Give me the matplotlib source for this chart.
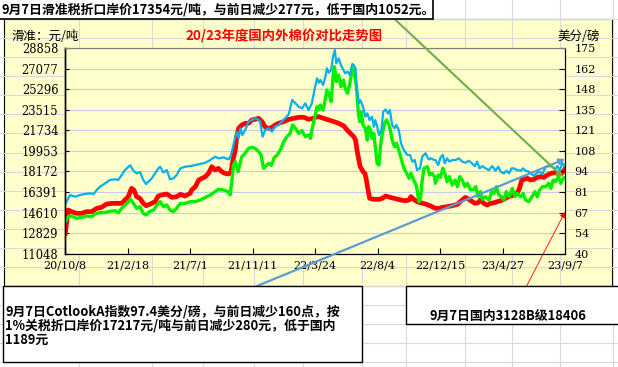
import numpy as np
import matplotlib
matplotlib.use('Agg')
import matplotlib.pyplot as plt
from matplotlib.patches import Rectangle

plt.rcParams['font.family'] = 'DejaVu Serif'
CJK = ['Noto Sans CJK SC', 'DejaVu Sans']

## données (jours depuis 2020-10-08)
START = np.datetime64('2020-10-08')

# Cotlook A, 美分/磅 (axe droit)
cot_day = [0, 10, 21, 31, 42, 53, 60, 67, 74, 85, 95, 106, 113, 120, 127, 138, 145, 152, 159, 166, 172, 177,
           184, 191, 198, 202, 209, 216, 223, 230, 237, 245, 255, 266,
           277, 287, 298, 309, 319, 326, 337, 348, 353, 357, 362, 365, 369, 373, 377, 383, 390, 397, 404, 410,
           415, 420, 426, 433, 440, 447, 454, 461, 468, 476, 483, 490, 497, 504, 511, 518, 525,
           527, 532, 536, 540, 543, 549, 554, 557, 561, 566, 570, 574, 577, 582, 587, 592, 596, 601, 606, 611,
           614, 618, 621, 625, 628, 634, 639, 643, 648, 653, 657, 660, 664, 668, 673, 677, 682, 687, 691, 696,
           701, 705, 710, 715, 721, 728, 734, 739, 744, 749, 755, 760, 767, 774, 779, 785,
           788, 794, 799, 804, 808, 813, 818, 824, 831, 838, 845, 852, 859, 866, 872, 877, 882, 888, 895, 902,
           909, 916, 922, 927, 934, 939, 945, 950, 955, 962, 970, 975, 980, 987, 993, 998, 1003, 1009, 1016,
           1023, 1030, 1037, 1043, 1048, 1053, 1058, 1064]
cot_val = [72.6, 78.5, 77.4, 78.5, 79.2, 79.6, 79.2, 81.8, 84.0, 86.2, 88.4, 88.8, 88.4, 91.6, 94.9, 98.0,
           94.5, 92.7, 93.6, 88.4, 85.7, 87.3, 89.4, 92.7, 96.0, 97.1, 93.2, 94.9, 88.8, 89.4, 91.6, 96.0,
           97.1, 97.5,
           98.2, 98.9, 99.7, 101.5, 103.7, 102.6, 103.2, 101.9, 104.8, 110.2, 116.8, 120.1, 115.7, 122.3,
           117.9, 121.2, 126.6, 127.7, 128.8, 128.2, 126.6, 116.8, 121.2, 122.3, 120.1, 123.4, 124.5, 126.6,
           128.8, 131.7, 140.9, 138.7, 136.5, 135.4, 138.7, 134.3, 138.7,
           142.0, 149.6, 155.1, 152.2, 154.0, 150.7, 156.2, 161.7, 158.8, 160.6, 169.3, 173.7, 164.9, 168.2,
           163.8, 160.6, 158.4, 159.5, 157.3, 164.5, 163.8, 161.7, 147.4, 138.7, 140.9, 136.5, 129.9, 132.1,
           127.7, 129.9, 123.4, 127.7, 123.4, 117.9, 121.2, 133.2, 134.7, 132.1, 134.3, 124.5, 122.3, 124.5,
           121.2, 112.4, 108.0, 104.8, 104.8, 100.4, 101.5, 94.9, 96.0, 103.7, 105.9, 101.9, 102.6, 101.5,
           101.5, 98.2, 103.2, 104.8, 99.3, 102.6, 100.4, 101.5, 101.5, 102.6, 100.4, 99.7, 101.0, 99.3, 97.5,
           100.4, 96.0, 97.5, 96.0, 94.9, 97.5, 94.5, 97.1, 93.8, 92.7, 94.5, 92.7, 96.0, 96.0, 94.9, 94.5,
           96.0, 94.5, 93.8, 92.3, 91.0, 92.7, 93.8, 92.3, 97.1, 97.5, 97.1, 95.4, 97.5, 94.5, 99.7, 97.4]

# 国内3128B, 元/吨
dom_day = [0, 6, 13, 24, 35, 45, 56, 67, 77, 88, 99, 110, 120, 127, 134, 141, 146, 152, 159, 166, 172, 181,
           191, 198, 205, 216, 227, 237, 245, 255, 266,
           269, 277, 284, 291, 298, 305, 312, 319, 326, 333, 340, 348, 353, 357, 362, 365, 369, 376, 383, 390,
           397, 404, 412, 419, 426, 433, 440, 447, 454, 465, 476, 486, 497, 508, 518, 529,
           532, 540, 550, 561, 572, 582, 593, 600, 607, 614, 618, 621, 625, 628, 634, 638, 641, 644, 648, 657,
           668, 675, 682, 692, 703, 714, 724, 732, 736, 742, 749, 756, 767, 778, 788,
           795, 803, 813, 824, 835, 845, 852, 859, 867, 872, 879, 884, 891, 898, 906, 913, 920, 927, 934, 941,
           948, 955, 962, 967, 972, 977, 984, 991, 998, 1005, 1012, 1019, 1026, 1034, 1041, 1048, 1055, 1062,
           1064]
dom_val = [12809, 14830, 14686, 14541, 14541, 14686, 14686, 14974, 15061, 15350, 15407, 15407, 15407, 15696,
           15985, 16707, 16562, 15985, 15840, 15407, 15205, 15350, 15552, 16043, 16129, 16216, 15927, 15985,
           16187, 16043, 16273,
           16562, 16851, 17428, 17573, 17717, 18006, 18583, 18294, 18439, 18150, 18006, 17948, 18150, 19160,
           20027, 21181, 21903, 22192, 22336, 22336, 22625, 22683, 22769, 22481, 21990, 21903, 21990, 22192,
           22336, 22481, 22683, 22769, 22856, 22856, 22683, 22769,
           22856, 22914, 22769, 22625, 22481, 22336, 22105, 21759, 21470, 21181, 20893, 20027, 19160, 18583,
           18150, 18006, 17428, 16707, 15840, 15754, 15754, 15840, 16043, 15927, 15812, 15696, 15638, 15696,
           15985, 15754, 15552, 15465, 15350, 15176, 14974,
           14974, 15061, 15119, 15205, 15321, 15696, 15927, 15754, 15552, 15407, 15465, 15696, 15407, 15263,
           15407, 15465, 15552, 15638, 15754, 15927, 16043, 16129, 16273, 16707, 17428, 17486, 17573, 17428,
           17486, 17659, 17717, 17659, 17861, 18006, 18063, 18006, 17948, 18237, 18406]

# 滑准税折口岸价, 元/吨
imp_day = [0, 6, 13, 24, 35, 45, 56, 63, 74, 85, 95, 106, 113, 120, 131, 139, 145, 152, 159, 166, 172, 179,
           188, 195, 202, 209, 216, 223, 230, 237, 245, 255, 266,
           277, 287, 298, 309, 319, 326, 337, 346, 351, 355, 358, 362, 368, 372, 376, 383, 390, 397, 404, 412,
           417, 422, 426, 433, 439, 444, 451, 458, 465, 472, 479, 484, 490, 497, 504, 511, 518,
           522, 525, 530, 536, 540, 543, 549, 554, 557, 561, 566, 570, 573, 577, 582, 587, 592, 596, 601, 606,
           611, 614, 620, 624, 627, 630, 634, 639, 643, 646, 650, 653, 657, 660, 664, 668, 671, 675, 680, 684,
           689, 692, 696, 701, 705, 710, 715, 721, 727, 732, 736, 742, 748, 753, 756, 760, 764, 771, 776, 781,
           786,
           788, 794, 799, 804, 808, 813, 818, 824, 830, 835, 840, 845, 851, 856, 863, 870, 874, 879, 884, 888,
           895, 902, 908, 913, 918, 923, 929, 934, 939, 945, 952, 957, 962, 970, 975, 980, 987, 994, 1000,
           1005, 1010, 1016, 1023, 1029, 1034, 1039, 1044, 1050, 1055, 1060, 1064]
imp_val = [13820, 14253, 14310, 14108, 14195, 14310, 14253, 14484, 14599, 14628, 14714, 14772, 14599, 14974,
           15407, 15754, 15407, 14974, 15119, 14541, 14397, 14686, 14830, 15263, 15552, 15119, 15263, 14830,
           14686, 14974, 15407, 15407, 15552,
           15552, 15696, 15927, 16129, 16418, 16620, 16562, 16418, 16129, 17428, 18727, 19016, 18150, 18872,
           19449, 19738, 20171, 20258, 20171, 19882, 19594, 18439, 18583, 18872, 18699, 19305, 19594, 20027,
           20748, 21181, 21470, 22192, 21903, 21470, 21701, 21181, 21326,
           21037, 21759, 22625, 23780, 23491, 23924, 23491, 24501, 25223, 24934, 24213, 26378, 27244, 25945,
           26522, 25512, 26089, 25368, 24934, 25801, 27100, 26955, 25512, 23202, 22481, 23347, 22192, 21903,
           20893, 22048, 21759, 21037, 21470, 20315, 18872, 18727, 20315, 21470, 22336, 22625, 22192, 21759,
           20893, 20315, 20604, 20027, 19305, 18439, 18006, 17573, 18006, 17428, 16851, 15552, 15696, 17428,
           18439, 18583, 17861, 18006, 17717,
           17140, 17861, 17659, 18439, 18006, 17284, 17717, 16995, 17428, 16851, 17717, 17428, 16851, 17140,
           16562, 16620, 16851, 15985, 16418, 15754, 15985, 15696, 16418, 16273, 16851, 16129, 15985, 15696,
           16418, 15985, 16707, 15985, 16273, 15985, 16273, 15696, 15552, 15985, 16418, 15985, 16562, 16851,
           16851, 17140, 16707, 17428, 17284, 17717, 17140, 17573, 17650]

xtick_day = [0, 133, 266, 399, 532, 665, 798, 931, 1064]
xtick_labels = ['20/10/8', '21/2/18', '21/7/1', '21/11/11', '22/3/24', '22/8/4', '22/12/15', '23/4/27', '23/9/7']
left_ticks = [11048, 12829, 14610, 16391, 18172, 19953, 21734, 23515, 25296, 27077, 28858]
right_ticks = [40, 53.5, 67, 80.5, 94, 107.5, 121, 134.5, 148, 161.5, 175]
right_labels = ['40', '54', '67', '81', '94', '108', '121', '135', '148', '162', '175']

title = '20/23年度国内外棉价对比走势图'
note_top = '9月7日滑准税折口岸价17354元/吨，与前日减少277元，低于国内1052元。'
note_left = ['9月7日CotlookA指数97.4美分/磅，与前日减少160点，按',
             '1%关税折口岸价17217元/吨与前日减少280元，低于国内',
             '1189元']
note_right = '9月7日国内3128B级18406'


def main():
    W, H = 618, 367
    fig = plt.figure(figsize=(W / 100, H / 100), dpi=100)

    # fond tableur
    bg = fig.add_axes([0, 0, 1, 1])
    bg.set_xlim(0, W)
    bg.set_ylim(H, 0)
    bg.axis('off')
    bg.set_zorder(0)
    for k in range(19):
        bg.axhline(19.3 + 19.03 * k, color='#D9D9D9', lw=0.8)
    for x in [79, 152, 203, 254, 303, 362, 406, 465, 512, 560, 613]:
        bg.axvline(x, color='#D9D9D9', lw=0.8)
    bg.add_patch(Rectangle((3.5, 19), 608.5, 266.5, fc='#FFFFCC', ec='black', lw=0.8))

    # zone de tracé
    ax = fig.add_axes([65.3 / W, 1 - 253.7 / H, 499.7 / W, 205.7 / H])
    ax.set_facecolor('#FFFFCC')
    ax.set_zorder(1)
    d = lambda days: START + np.array(days, dtype='timedelta64[D]')

    ax.plot(d(dom_day), dom_val, color='#FF0000', lw=3.4, solid_joinstyle='round', zorder=3)
    ax.plot(d(imp_day), imp_val, color='#00F000', lw=2.4, solid_joinstyle='round', zorder=4)
    ax.set_xlim(d([0])[0], d([1064])[0])
    ax.set_ylim(11048, 28858)
    ax.set_yticks(left_ticks)
    ax.set_yticklabels([str(v) for v in left_ticks])
    ax.set_xticks(d(xtick_day))
    ax.set_xticklabels(xtick_labels)
    ax.grid(axis='y', color='#C6CCEA', lw=0.8)
    ax.grid(axis='x', visible=False)
    ax.set_axisbelow(True)
    ax.tick_params(axis='y', direction='in', length=3, pad=5, labelsize=8.3)
    ax.tick_params(axis='x', direction='in', length=4, pad=5, labelsize=8)

    ax2 = ax.twinx()
    ax2.set_zorder(2)
    ax2.plot(d(cot_day), cot_val, color='#00B0F0', lw=1.6, solid_joinstyle='round')
    ax2.set_ylim(40, 175)
    ax2.set_yticks(right_ticks)
    ax2.set_yticklabels(right_labels)
    ax2.tick_params(axis='y', direction='in', length=4, pad=7, labelsize=8)
    for a in (ax, ax2):
        a.spines['top'].set_color('#808080')
        for s in ('left', 'right', 'bottom'):
            a.spines[s].set_color('black')
        a.spines['left'].set_linewidth(1)

    # calque du dessus : textes, flèches, cadres
    fg = fig.add_axes([0, 0, 1, 1])
    fg.set_xlim(0, W)
    fg.set_ylim(H, 0)
    fg.axis('off')
    fg.set_zorder(3)

    fg.text(284, 36, title, color='red', fontsize=9.6, weight='bold', ha='center', va='center', family=CJK)
    fg.text(12, 36, '滑准：元/吨', fontsize=9, ha='left', va='center', family=CJK)
    fg.text(557, 36, '美分/磅', fontsize=9, ha='left', va='center', family=CJK)

    fg.annotate('', xy=(565, 159), xytext=(245, 291),
                arrowprops=dict(arrowstyle='-|>', color='#5B9BD5', lw=1.6, mutation_scale=8, shrinkA=0, shrinkB=0))
    fg.annotate('', xy=(563, 177), xytext=(385, 10),
                arrowprops=dict(arrowstyle='-|>', color='#70AD47', lw=1.5, mutation_scale=8, shrinkA=0, shrinkB=0))
    fg.annotate('', xy=(565, 212), xytext=(510, 318),
                arrowprops=dict(arrowstyle='-|>', color='#FF0000', lw=0.6, mutation_scale=8, shrinkA=0, shrinkB=0))

    fg.add_patch(Rectangle((-2, -2), 435, 21, fc='white', ec='black', lw=1.2, zorder=5))
    fg.text(2, 9.5, note_top, fontsize=9.3, weight='bold', ha='left', va='center', family=CJK, zorder=6)

    fg.add_patch(Rectangle((3, 285.5), 359, 76, fc='white', ec='black', lw=1, zorder=5))
    for i, line in enumerate(note_left):
        fg.text(5, 311 + 14.5 * i, line, fontsize=9.3, weight='bold', ha='left', va='center', family=CJK, zorder=6)

    fg.add_patch(Rectangle((406, 285.5), 215, 38, fc='white', ec='black', lw=1, zorder=5))
    fg.text(508, 316, note_right, fontsize=9.3, weight='bold', ha='center', va='center', family=CJK, zorder=6)

    plt.savefig('out.png', dpi=100)


if __name__ == '__main__':
    main()
